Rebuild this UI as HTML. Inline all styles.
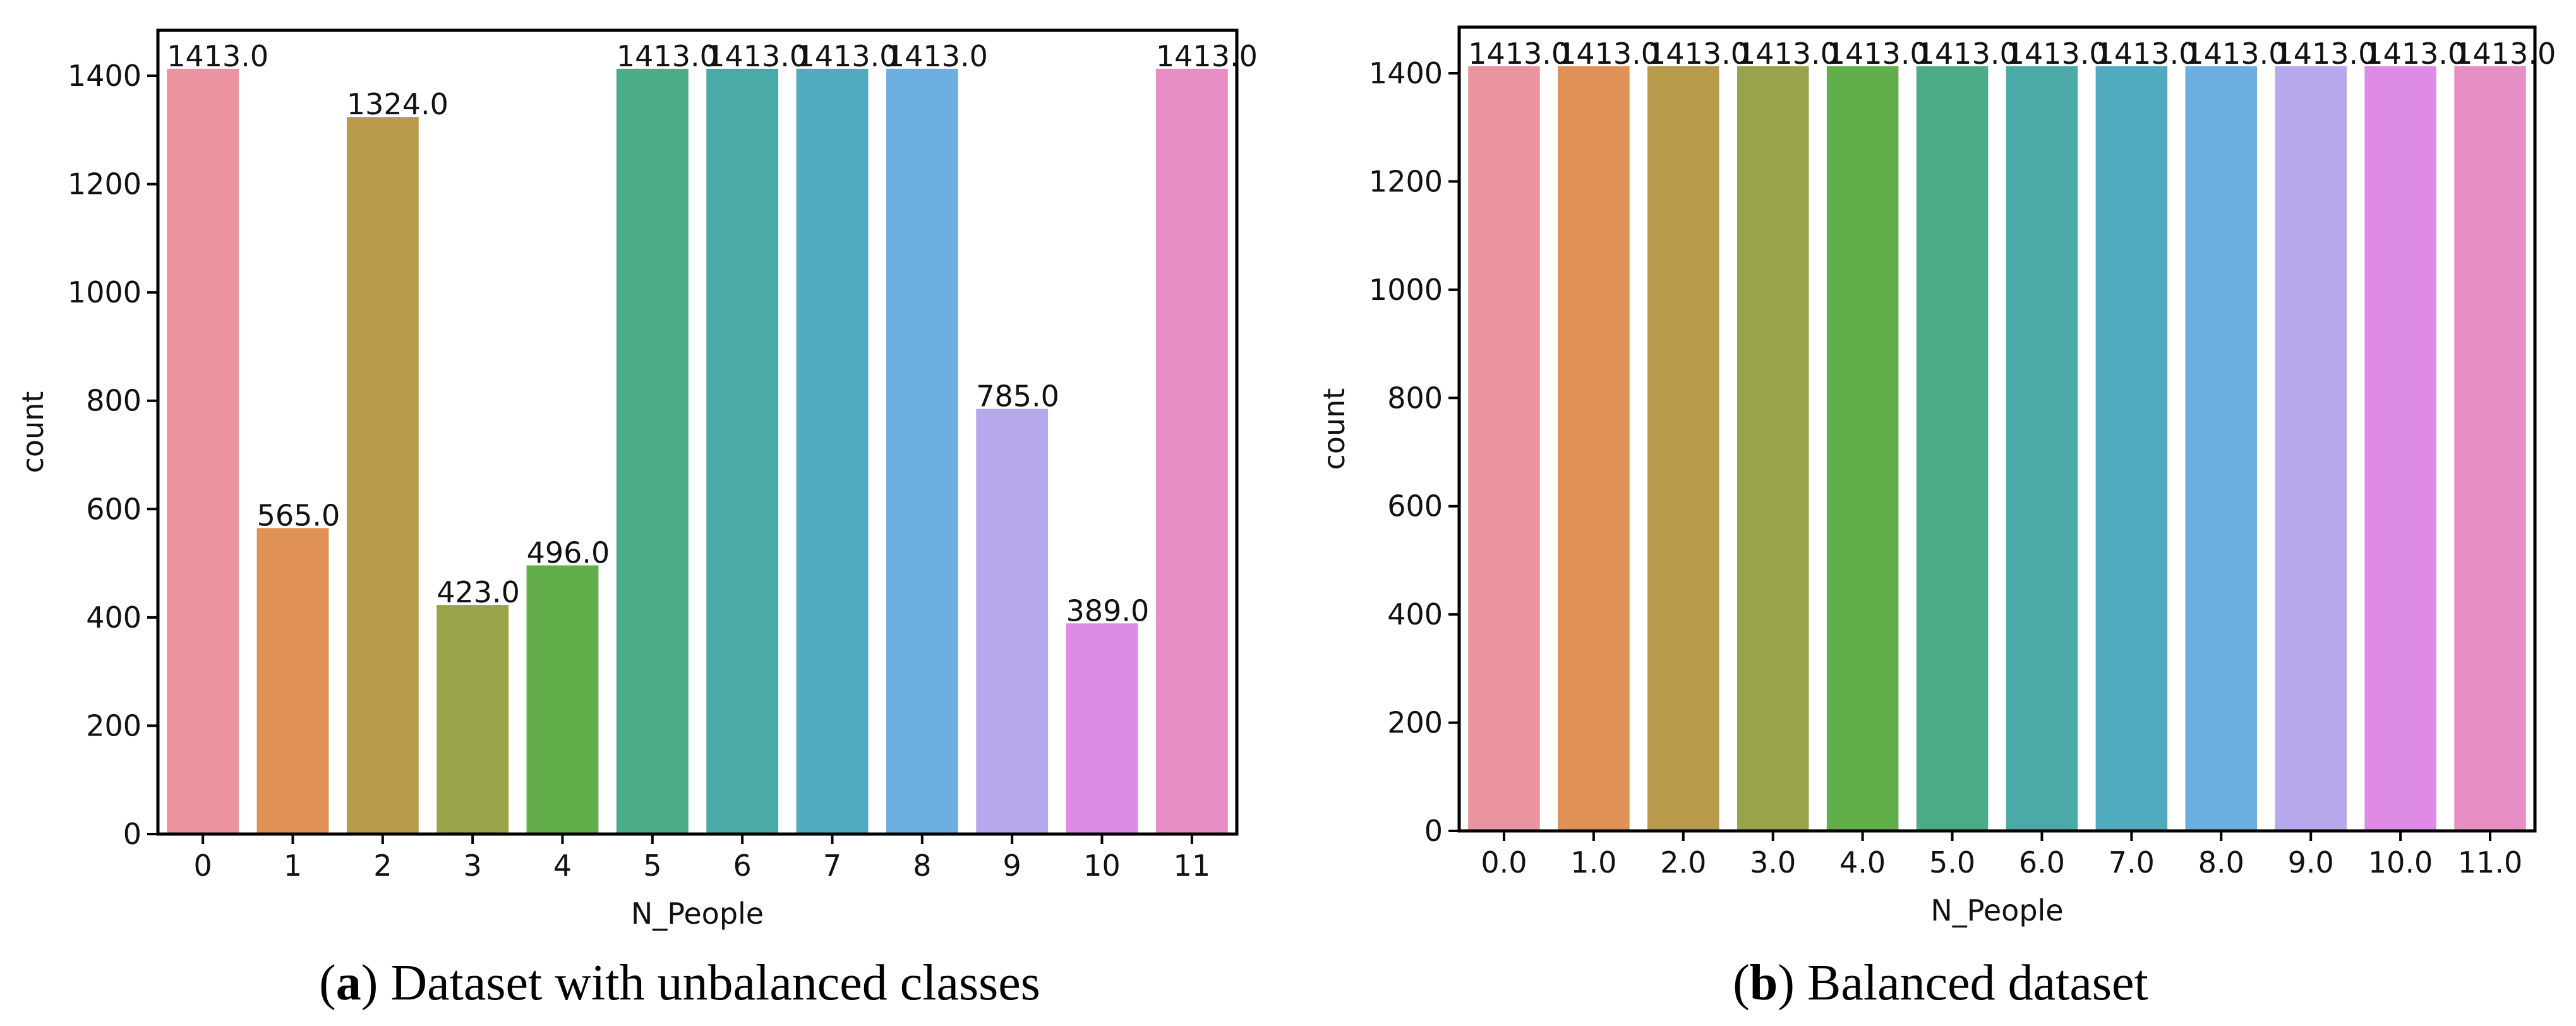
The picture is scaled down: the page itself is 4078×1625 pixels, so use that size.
<!DOCTYPE html>
<html><head><meta charset="utf-8"><style>
html,body{margin:0;padding:0;background:#fff;}
svg{display:block;}
text{font-family:"DejaVu Sans","Liberation Sans",sans-serif;}
.cap{font-family:"Liberation Serif",serif;}
</style></head><body>
<svg id="fig" width="4078" height="1625" viewBox="0 0 4078 1625" xmlns="http://www.w3.org/2000/svg"></svg>
<script>
const categoriesA = ["0","1","2","3","4","5","6","7","8","9","10","11"];
const valuesA = [1413,565,1324,423,496,1413,1413,1413,1413,785,389,1413];
const categoriesB = ["0.0","1.0","2.0","3.0","4.0","5.0","6.0","7.0","8.0","9.0","10.0","11.0"];
const valuesB = [1413,1413,1413,1413,1413,1413,1413,1413,1413,1413,1413,1413];
const yTicks = [0,200,400,600,800,1000,1200,1400];
const colors = ["#e9949f","#e09155","#b79b4a","#99a44a","#61ae4a","#4aad88","#4aaaa7","#4fabbd","#6caee0","#b6a8ea","#de8be6","#e78fc4"];
const NS="http://www.w3.org/2000/svg";
const svg=document.getElementById('fig');
function mk(tag,attrs,parent){const e=document.createElementNS(NS,tag);for(const k in attrs)e.setAttribute(k,attrs[k]);(parent||svg).appendChild(e);return e;}

function chart(cfg,cats,vals,prefix){
  const g=mk('g',{});
  
  
  const n=cats.length, band=(cfg.right-cfg.left)/n;
  const x=i=>cfg.left+band*(i+0.5);
  const y=v=>cfg.y0-(cfg.y0-cfg.y1400)*v/1400;
  const bw=band*0.8;
  cats.forEach((c,i)=>{
    const r=mk('rect',{x:x(i)-bw/2,y:y(vals[i]),width:bw,height:y(0)-y(vals[i]),fill:colors[i]},g);
    
    
    const t=mk('text',{x:x(i)-bw/2,y:y(vals[i])-4,'font-size':46,fill:'#111'},g);
    t.textContent=vals[i].toFixed(1);
    
    
    const tk=mk('line',{x1:x(i),x2:x(i),y1:cfg.y0,y2:cfg.y0+16,stroke:'#000','stroke-width':4},g);
    
    
    const tl=mk('text',{x:x(i),y:cfg.y0+66,'font-size':46,'text-anchor':'middle',fill:'#111'},g);
    tl.textContent=c;
    
    
  });
  yTicks.forEach(v=>{
    const tk=mk('line',{x1:cfg.left-17,x2:cfg.left,y1:y(v),y2:y(v),stroke:'#000','stroke-width':4},g);
    
    
    const tl=mk('text',{x:cfg.left-26,y:y(v)+16,'font-size':46,'text-anchor':'end',fill:'#111'},g);
    tl.textContent=String(v);
    
    
  });
  const fr=mk('rect',{x:cfg.left,y:cfg.top,width:cfg.right-cfg.left,height:cfg.y0-cfg.top,fill:'none',stroke:'#000','stroke-width':5},g);
  
  
  const xt=mk('text',{x:(cfg.left+cfg.right)/2,y:cfg.y0+142,'font-size':46,'text-anchor':'middle',fill:'#111'},g);
  xt.textContent='N_People';
  
  
  const yt=mk('text',{x:0,y:0,'font-size':46,'text-anchor':'middle',fill:'#111',transform:'translate('+(cfg.ylab)+','+((cfg.top+cfg.y0)/2)+') rotate(-90)'},g);
  yt.textContent='count';
  
  
  const cap=mk('text',{x:cfg.capX,y:1583,'font-size':80,'text-anchor':'middle',fill:'#000','class':'cap'},g);
  cap.innerHTML='(<tspan font-weight="bold">'+cfg.capL+'</tspan>) '+cfg.cap;
  
  
}
chart({left:250,right:1958,top:48,y0:1321,y1400:120,ylab:68,capX:1076,capL:'a',cap:'Dataset with unbalanced classes'},categoriesA,valuesA,'unbalanced');
chart({left:2310,right:4013,top:43,y0:1316,y1400:116,ylab:2128,capX:3072,capL:'b',cap:'Balanced dataset'},categoriesB,valuesB,'balanced');
</script>
</body></html>
